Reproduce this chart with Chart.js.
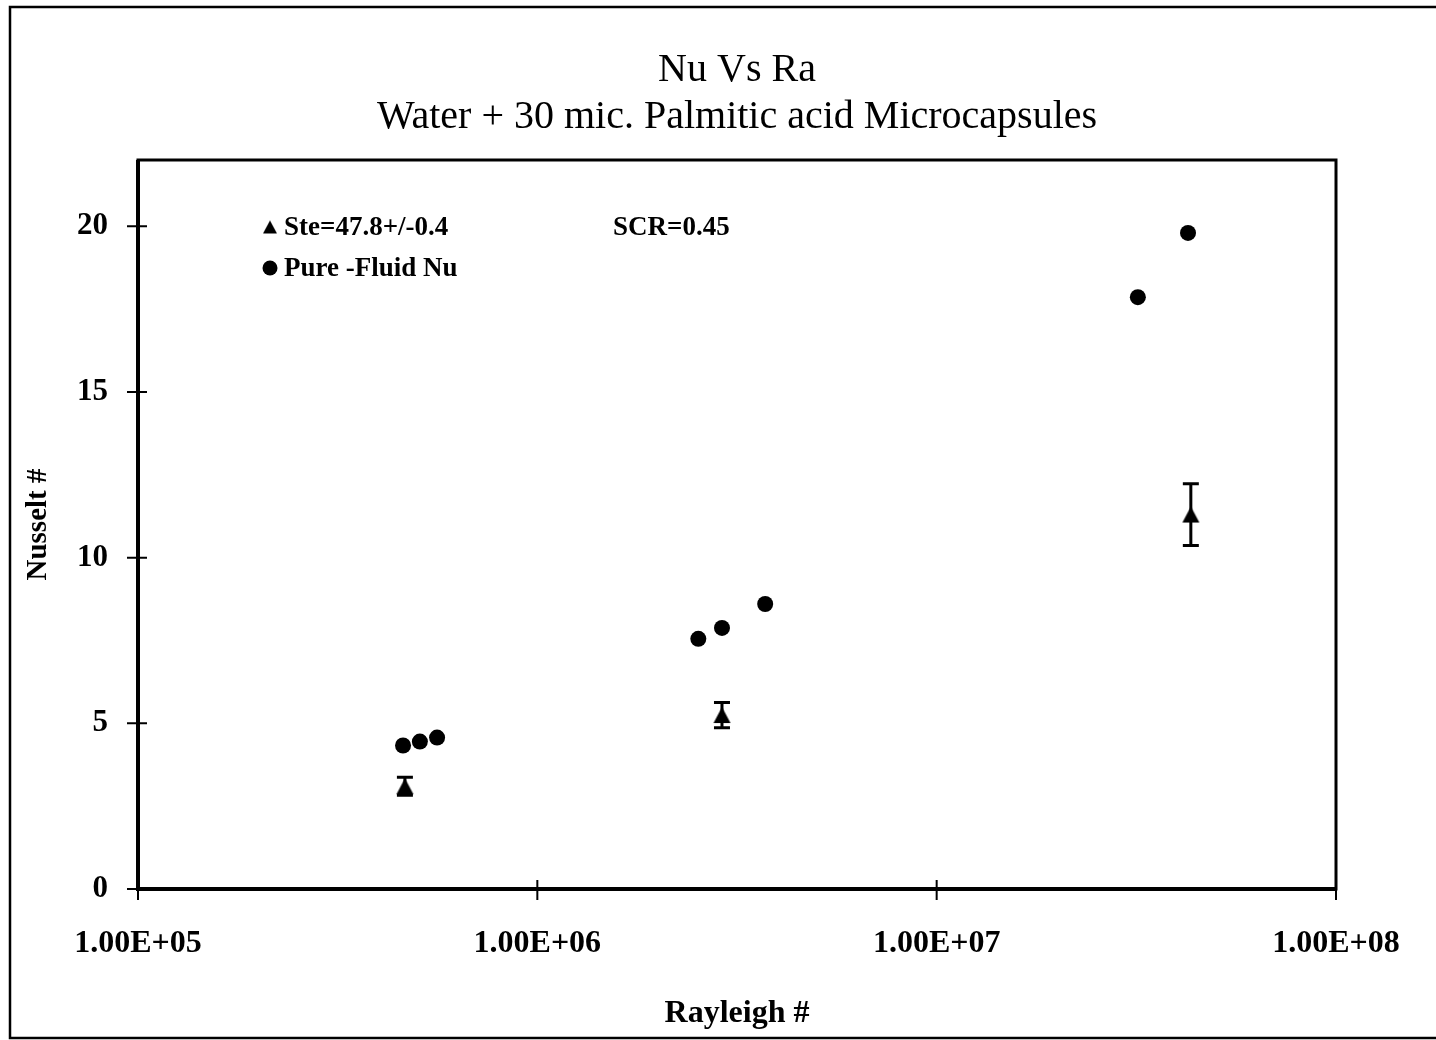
<!DOCTYPE html>
<html lang="en">
<head>
  <meta charset="UTF-8">
  <title>Nu Vs Ra</title>
  <script src="https://cdn.jsdelivr.net/npm/chart.js"></script>
  <style>
    body { margin: 0; background: #fff; }
  </style>
</head>
<body>
  <canvas id="chart" width="1436" height="1040"></canvas>

  <script>
    // tick values
    const xTickValues = [1e5, 1e6, 1e7, 1e8];
    const yTickValues = [0, 5, 10, 15, 20];

    // Ste=47.8+/-0.4 (triangles, with error bars)
    const steRa = [4.66e5, 2.90e6, 4.33e7];
    const steNu = [3.1, 5.25, 11.3];
    const steErr = [0.27, 0.38, 0.93];

    // Pure-fluid Nu (circles)
    const pureRa = [4.61e5, 5.08e5, 5.61e5, 2.53e6, 2.90e6, 3.72e6, 3.19e7, 4.26e7];
    const pureNu = [4.33, 4.45, 4.57, 7.55, 7.88, 8.6, 17.86, 19.8];

    const SERIF = '"Liberation Serif", "Times New Roman", serif';

    function fmtE(v) {
      const [m, e] = v.toExponential(2).split('e');
      const n = parseInt(e, 10);
      return m + 'E' + (n < 0 ? '-' : '+') + String(Math.abs(n)).padStart(2, '0');
    }

    // triangle marker centred on its bounding box (like Excel)
    function makeTriangle(w, h) {
      const c = document.createElement('canvas');
      c.width = w + 2;
      c.height = h + 2;
      const g = c.getContext('2d');
      g.fillStyle = '#000';
      g.beginPath();
      g.moveTo(1, h + 1);
      g.lineTo(w + 1, h + 1);
      g.lineTo(w / 2 + 1, 1);
      g.closePath();
      g.fill();
      return c;
    }
    const triMarker = makeTriangle(17, 16);
    const triLegend = makeTriangle(14, 13);

    const decorations = {
      id: 'decorations',
      beforeDraw(chart) {
        const ctx = chart.ctx;
        ctx.save();
        ctx.fillStyle = '#fff';
        ctx.fillRect(0, 0, chart.width, chart.height);
        ctx.strokeStyle = '#000';
        ctx.lineWidth = 2.5;
        ctx.strokeRect(10, 7, chart.width + 20, 1031);
        ctx.restore();
      },
      beforeDatasetsDraw(chart) {
        const ctx = chart.ctx;
        const { x, y } = chart.scales;
        ctx.save();
        ctx.strokeStyle = '#000';
        ctx.lineWidth = 3;
        steRa.forEach((ra, i) => {
          const px = x.getPixelForValue(ra);
          const top = y.getPixelForValue(steNu[i] + steErr[i]);
          const bot = y.getPixelForValue(steNu[i] - steErr[i]);
          ctx.beginPath();
          ctx.moveTo(px, top); ctx.lineTo(px, bot);
          ctx.moveTo(px - 8, top); ctx.lineTo(px + 8, top);
          ctx.moveTo(px - 8, bot); ctx.lineTo(px + 8, bot);
          ctx.stroke();
        });
        ctx.restore();
      },
      afterDraw(chart) {
        const ctx = chart.ctx;
        const { left, right, top, bottom } = chart.chartArea;
        const { x, y } = chart.scales;
        ctx.save();
        ctx.strokeStyle = '#000';
        // plot frame
        ctx.lineWidth = 3;
        ctx.strokeRect(left, top, right - left, bottom - top);
        ctx.lineWidth = 4;
        ctx.beginPath();
        ctx.moveTo(left, top); ctx.lineTo(left, bottom); ctx.lineTo(right, bottom);
        ctx.stroke();
        // crossing tick marks
        ctx.lineWidth = 2;
        ctx.beginPath();
        xTickValues.forEach(v => {
          const px = x.getPixelForValue(v);
          ctx.moveTo(px, bottom - 9); ctx.lineTo(px, bottom + 11);
        });
        yTickValues.forEach(v => {
          const py = y.getPixelForValue(v);
          ctx.moveTo(left - 11, py); ctx.lineTo(left + 9, py);
        });
        ctx.stroke();

        // legend + annotation
        ctx.fillStyle = '#000';
        ctx.font = 'bold 27px ' + SERIF;
        ctx.textBaseline = 'middle';
        ctx.textAlign = 'left';
        ctx.drawImage(triLegend, 270 - triLegend.width / 2, 227 - triLegend.height / 2);
        ctx.fillText('Ste=47.8+/-0.4', 284, 228);
        ctx.beginPath();
        ctx.arc(270, 268, 7.5, 0, Math.PI * 2);
        ctx.fill();
        ctx.fillText('Pure -Fluid Nu', 284, 269);
        ctx.fillText('SCR=0.45', 613, 228);
        ctx.restore();
      }
    };

    new Chart(document.getElementById('chart'), {
      type: 'scatter',
      data: {
        datasets: [
          {
            label: 'Ste=47.8+/-0.4',
            data: steRa.map((ra, i) => ({ x: ra, y: steNu[i] })),
            pointStyle: triMarker,
            backgroundColor: '#000',
            borderColor: '#000',
            pointRadius: 8
          },
          {
            label: 'Pure -Fluid Nu',
            data: pureRa.map((ra, i) => ({ x: ra, y: pureNu[i] })),
            pointStyle: 'circle',
            backgroundColor: '#000',
            borderColor: '#000',
            borderWidth: 0,
            pointRadius: 8
          }
        ]
      },
      options: {
        responsive: false,
        animation: false,
        layout: { padding: { left: 0, right: 100, top: 0, bottom: 0 } },
        plugins: {
          legend: { display: false },
          tooltip: { enabled: false },
          title: {
            display: true,
            fullSize: false,
            text: ['Nu Vs Ra', 'Water + 30 mic. Palmitic acid Microcapsules'],
            color: '#000',
            font: { family: SERIF, size: 40, weight: 'normal', lineHeight: 1.175 },
            padding: { top: 46.5, bottom: 19.5 }
          }
        },
        scales: {
          x: {
            type: 'logarithmic',
            min: 1e5,
            max: 1e8,
            afterBuildTicks: scale => { scale.ticks = xTickValues.map(v => ({ value: v })); },
            afterFit: scale => { scale.height = 151; },
            grid: { display: false, drawTicks: false },
            border: { display: false },
            ticks: {
              color: '#000',
              font: { family: SERIF, size: 32, weight: 'bold' },
              padding: 36,
              maxRotation: 0,
              autoSkip: false,
              callback: v => fmtE(v)
            },
            title: {
              display: true,
              text: 'Rayleigh #',
              color: '#000',
              font: { family: SERIF, size: 32, weight: 'bold' },
              padding: { top: 7, bottom: 7 }
            }
          },
          y: {
            min: 0,
            max: 22,
            afterBuildTicks: scale => { scale.ticks = yTickValues.map(v => ({ value: v })); },
            afterFit: scale => { scale.width = 138; },
            grid: { display: false, drawTicks: false },
            border: { display: false },
            ticks: {
              color: '#000',
              font: { family: SERIF, size: 31, weight: 'bold' },
              padding: 30
            },
            title: {
              display: true,
              text: 'Nusselt #',
              color: '#000',
              font: { family: SERIF, size: 29, weight: 'bold' },
              padding: { top: 21, bottom: 21 }
            }
          }
        }
      },
      plugins: [decorations]
    });
  </script>
</body>
</html>
